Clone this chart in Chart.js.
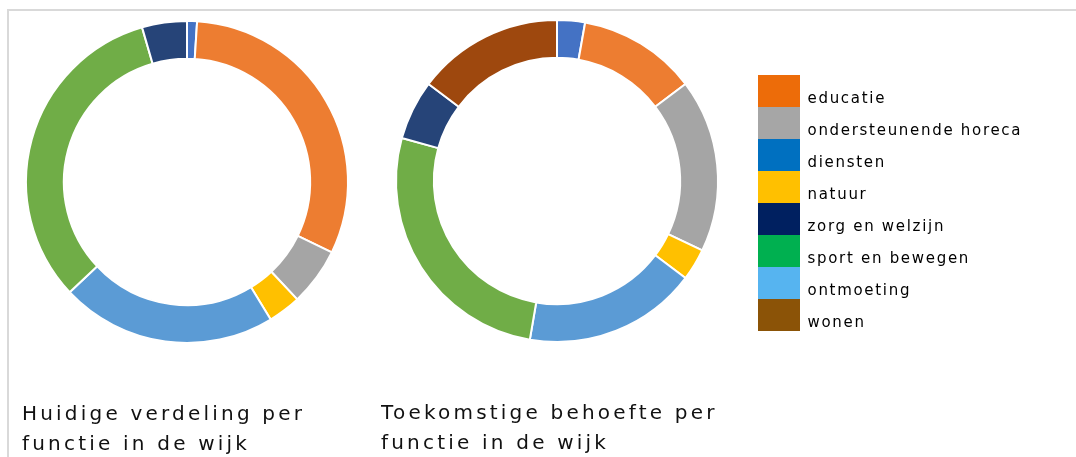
<!DOCTYPE html>
<html lang="nl">
<head>
<meta charset="utf-8">
<title>Verdeling per functie in de wijk</title>
<script src="https://cdn.jsdelivr.net/npm/chart.js@4"></script>
<style>
  html, body { margin: 0; padding: 0; background: #fff; overflow: hidden; }
  body { width: 1076px; height: 457px; position: relative; }
  #frame { position: absolute; left: 7px; top: 9px; right: 0; bottom: -5px;
           border-top: 2px solid #d9d9d9; border-left: 2px solid #d9d9d9; }
  .box { position: absolute; }
  #container1 { left: 22px; top: 12px; width: 330px; height: 460px; }
  #container2 { left: 381px; top: 11px; width: 352px; height: 460px; }
  #container3 { left: 758px; top: 75px; width: 318px; height: 270px; }
</style>
</head>
<body>
<div id="frame"></div>
<div class="box" id="container1"><canvas id="graph1"></canvas></div>
<div class="box" id="container2"><canvas id="graph2"></canvas></div>
<div class="box" id="container3"><canvas id="graph3"></canvas></div>

<script>
/* ------------------------ Données ------------------------ */

const labels = ["educatie", "ondersteunende horeca", "diensten", "natuur",
                "zorg en welzijn", "sport en bewegen", "ontmoeting", "wonen"];

// huidige verdeling (%)
const currentValues = [1.0, 31.2, 5.8, 3.3, 21.7, 32.5, 4.5, 0];

// toekomstige behoefte (%)
const futureValues = [2.8, 11.9, 17.4, 3.2, 17.4, 26.6, 6.0, 14.7];

const titleCurrent = ["Huidige verdeling per", "functie in de wijk"];
const titleFuture = ["Toekomstige behoefte per", "functie in de wijk"];

// couleurs des anneaux (thème office)
const sliceColors = ["#4472C4", "#ED7D31", "#A5A5A5", "#FFC000",
                     "#5B9BD5", "#70AD47", "#264478", "#9E480E"];

// couleurs de la légende (image séparée)
const legendColors = ["#ED6C09", "#A6A6A6", "#0070C0", "#FFC000",
                      "#002060", "#00B050", "#56B4F0", "#8B5307"];

/* ------------------------ Réglages communs ------------------------ */

// espacement des lettres (mesure + dessin)
const spacing = {
  id: "spacing",
  beforeLayout(chart) {
    chart.ctx.letterSpacing = chart.options.plugins.spacing.value || "0px";
  },
  beforeDraw(chart) {
    chart.ctx.letterSpacing = chart.options.plugins.spacing.value || "0px";
  }
};

function doughnutConfig(values, title) {
  return {
    type: "doughnut",
    data: {
      labels: labels,
      datasets: [{
        data: values,
        backgroundColor: sliceColors,
        borderColor: "#ffffff",
        borderWidth: 2
      }]
    },
    options: {
      responsive: true,
      maintainAspectRatio: false,
      animation: false,
      cutout: "76.5%",
      layout: { padding: { top: 8, left: 0, right: 0, bottom: 0 } },
      plugins: {
        legend: { display: false },
        tooltip: { enabled: false },
        spacing: { value: "3.2px" },
        title: {
          display: true,
          position: "bottom",
          align: "start",
          text: title,
          color: "#111111",
          font: { family: "'DejaVu Sans', Verdana", size: 20, weight: "normal", lineHeight: "30px" },
          padding: { top: 56, bottom: 12 }
        }
      }
    },
    plugins: [spacing]
  };
}

/* ------------------------ Graphiques ------------------------ */

const ctx1 = document.getElementById("graph1").getContext("2d");
const myChart1 = new Chart(ctx1, doughnutConfig(currentValues, titleCurrent));

const ctx2 = document.getElementById("graph2").getContext("2d");
const myChart2 = new Chart(ctx2, doughnutConfig(futureValues, titleFuture));

/* ------------------------ Légende ------------------------ */

const ctx3 = document.getElementById("graph3").getContext("2d");
const myChart3 = new Chart(ctx3, {
  type: "doughnut",
  data: { labels: labels, datasets: [{ data: [] }] },
  options: {
    responsive: true,
    maintainAspectRatio: false,
    animation: false,
    plugins: {
      tooltip: { enabled: false },
      spacing: { value: "1.7px" },
      legend: {
        display: true,
        position: "left",
        align: "start",
        maxWidth: 318,
        onClick: null,
        labels: {
          boxWidth: 42,
          boxHeight: 32,
          padding: 0,
          color: "#1a1a1a",
          // 4 lignes de 8px = 32px par entrée, texte sur la 2e ligne (un peu sous le centre)
          font: { family: "'DejaVu Sans', Verdana", size: 15, lineHeight: "8px" },
          generateLabels: () => labels.map((l, i) => ({
            text: ["", l, "", ""],
            fillStyle: legendColors[i],
            strokeStyle: legendColors[i],
            lineWidth: 0,
            hidden: false,
            index: i
          }))
        }
      }
    }
  },
  plugins: [spacing]
});
</script>
</body>
</html>
